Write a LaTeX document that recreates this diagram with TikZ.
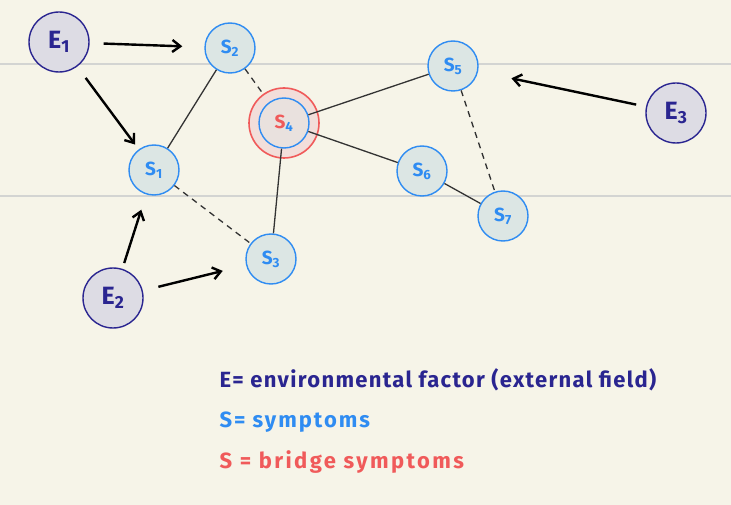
\documentclass[tikz,border=0pt]{standalone}
\usepackage{fontspec}
\setsansfont{Fira Sans}
\usepackage{tikz}
\usetikzlibrary{arrows.meta}
\usepackage{xcolor}
\definecolor{paper}{HTML}{F6F4E8}
\definecolor{rule}{HTML}{D3D4D2}
\definecolor{efield}{HTML}{2A2590}
\definecolor{efill}{HTML}{DDDCE4}
\definecolor{symp}{HTML}{2F8CF2}
\definecolor{sfill}{HTML}{DCE6E4}
\definecolor{bridge}{HTML}{F05A5A}
\definecolor{bfill}{HTML}{F2DEDA}

\tikzset{
  efac/.style={circle,draw=efield,fill=efill,line width=1.4pt,minimum size=60pt,inner sep=0pt,
    text=efield,font=\sffamily\bfseries\fontsize{25}{25}\selectfont},
  symnode/.style={circle,draw=symp,fill=sfill,line width=1.4pt,minimum size=50pt,inner sep=0pt,
    text=symp,font=\sffamily\bfseries\fontsize{19}{19}\selectfont},
  link/.style={line width=1.3pt,black!80},
  weak/.style={link,dashed,dash pattern=on 6pt off 5pt},
  push/.style={->,line width=2.4pt,shorten <=14pt,shorten >=16pt},
  legend/.style={anchor=west,font=\sffamily\bfseries\fontsize{22}{22}\selectfont}
}

\begin{document}
\begin{tikzpicture}[>={Straight Barb[length=8pt,width=12pt,line width=2.4pt]},x=1pt,y=-1pt]
  \fill[paper] (0,0) rectangle (731,505);
  \useasboundingbox (0,0) rectangle (731,505);
  \draw[rule,line width=2pt] (0,64) -- (731,64);
  \draw[rule,line width=2pt] (0,196) -- (731,196);

  % bridge ring behind S4
  \node[circle,draw=bridge,fill=bfill,line width=1.6pt,minimum size=70pt] (ring) at (284,123) {};

  \node[efac] (e1) at (59,42) {E\textsubscript{1}};
  \node[efac] (e2) at (113,298) {E\textsubscript{2}};
  \node[efac] (e3) at (676,113) {E\textsubscript{3}};

  \node[symnode] (s1) at (154,170) {S\textsubscript{1}};
  \node[symnode] (s2) at (230,48) {S\textsubscript{2}};
  \node[symnode] (s3) at (271,259) {S\textsubscript{3}};
  \node[symnode,fill=bfill!60!sfill] (s4) at (284,123) {\textcolor{bridge}{S}\textsubscript{4}};
  \node[symnode] (s5) at (453,66) {S\textsubscript{5}};
  \node[symnode] (s6) at (422,171) {S\textsubscript{6}};
  \node[symnode] (s7) at (503,216) {S\textsubscript{7}};

  \draw[link] (s2) -- (s1);
  \draw[weak] (s2) -- (ring);
  \draw[link] (s4) -- (s3);
  \draw[link] (s4) -- (s5);
  \draw[link] (s4) -- (s6);
  \draw[link] (s6) -- (s7);
  \draw[weak] (s1) -- (s3);
  \draw[weak] (s5) -- (s7);

  \draw[push,shorten >=22pt] (e1) -- (s2);
  \draw[push,shorten >=6pt] (e1) -- (s1);
  \draw[push,shorten <=6pt] (e2) -- (s1);
  \draw[push,shorten <=16pt,shorten >=24pt] (e2) -- (s3);
  \draw[push,shorten <=10pt,shorten >=34pt] (e3) -- (s5);

  \node[legend,text=efield] (lege) at (216,380)
    {\addfontfeature{LetterSpace=6}E= environmental factor (external field)};
  \node[legend,text=symp] (legs) at (216,422)
    {\addfontfeature{LetterSpace=9}S= symptoms};
  \node[legend,text=bridge] (legb) at (216,462)
    {\addfontfeature{LetterSpace=11}S = bridge symptoms};
\end{tikzpicture}
\end{document}
